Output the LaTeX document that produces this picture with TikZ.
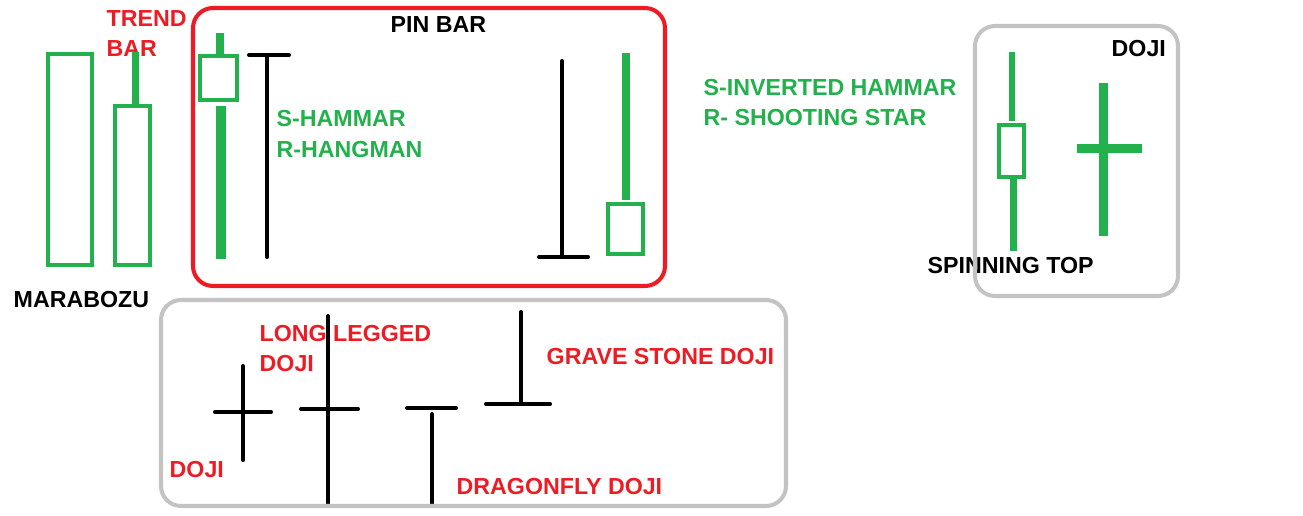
\documentclass[tikz,border=0pt]{standalone}
\usepackage{fontspec}
\setmainfont{Liberation Sans}
\usepackage{tikz}
\definecolor{pgreen}{RGB}{34,177,76}
\definecolor{pred}{RGB}{237,28,36}
\definecolor{pgray}{RGB}{195,195,195}

\begin{document}
\begin{tikzpicture}[x=0.01cm, y=-0.01cm,
  lbl/.style={anchor=base west, inner sep=0pt, font=\bfseries\fontsize{6.6}{8}\selectfont},
  body/.style={draw=pgreen, line width=1.15pt},
  wick/.style={pgreen, line width=2.3pt},
  stick/.style={line width=1.15pt, line cap=round},
  frame/.style={line width=1.15pt, rounded corners=0.2cm}]
  \useasboundingbox (0,0) rectangle (1303,515);

  % labels
  \node[lbl, pred] (trend) at (106,27) {TREND};
  \node[lbl, pred] (trendbar) at (106,57) {BAR};
  \node[lbl] (marabozu) at (13,307) {MARABOZU};
  \node[lbl] (pinbar) at (390,32) {PIN BAR};
  \node[lbl, pgreen] (shammar) at (276,126) {S-HAMMAR};
  \node[lbl, pgreen] (rhangman) at (276,157) {R-HANGMAN};
  \node[lbl, pgreen] (sinverted) at (703,95) {S-INVERTED HAMMAR};
  \node[lbl, pgreen] (rshooting) at (703,125) {R- SHOOTING STAR};
  \node[lbl] (dojitop) at (1111,57) {DOJI};
  \node[lbl] (spinning) at (927,273) {SPINNING TOP};
  \node[lbl, pred] (longlegged) at (259,341) {LONG LEGGED};
  \node[lbl, pred] (longdoji) at (259,371) {DOJI};
  \node[lbl, pred] (doji) at (169,477) {DOJI};
  \node[lbl, pred] (grave) at (546,364) {GRAVE STONE DOJI};
  \node[lbl, pred] (dragonfly) at (456,494) {DRAGONFLY DOJI};

  % marabozu and trend bar
  \draw[body] (48,54) rectangle (92,265);
  \draw[body] (115,106) rectangle (150,265);
  \draw[wick, line width=2pt] (135.5,52) -- (135.5,104);

  % pin bars
  \draw[wick] (220,33) -- (220,54);
  \draw[body] (200,56) rectangle (237,100);
  \draw[wick, line width=2.8pt] (221,106) -- (221,259);
  \draw[stick] (249,55) -- (289,55);
  \draw[stick] (267,55) -- (267,257);
  \draw[stick] (562,61) -- (562,257);
  \draw[stick] (539,257) -- (588,257);
  \draw[wick] (626,53) -- (626,200);
  \draw[body] (608,204) rectangle (643,254);

  % spinning top and doji
  \draw[wick, line width=1.8pt] (1012,52) -- (1012,121);
  \draw[body] (999,125) rectangle (1024,177);
  \draw[wick, line width=2pt] (1013.5,179) -- (1013.5,251);
  \draw[wick, line width=2.6pt] (1103.5,83) -- (1103.5,236);
  \draw[wick, line width=2.6pt] (1077,148.5) -- (1142,148.5);

  % doji family
  \draw[stick] (243,366) -- (243,460);
  \draw[stick] (215,412) -- (271,412);
  \draw[stick] (328,316) -- (328,503);
  \draw[stick] (301,409) -- (358,409);
  \draw[stick] (407,408) -- (456,408);
  \draw[stick] (432,414) -- (432,503);
  \draw[stick] (521,312) -- (521,404);
  \draw[stick] (486,404) -- (550,404);

  % frames
  \draw[frame, pred] (193,8) rectangle (665,286);
  \draw[frame, pgray] (975,26) rectangle (1178,296);
  \draw[frame, pgray] (161,300) rectangle (786,506);
\end{tikzpicture}
\end{document}
